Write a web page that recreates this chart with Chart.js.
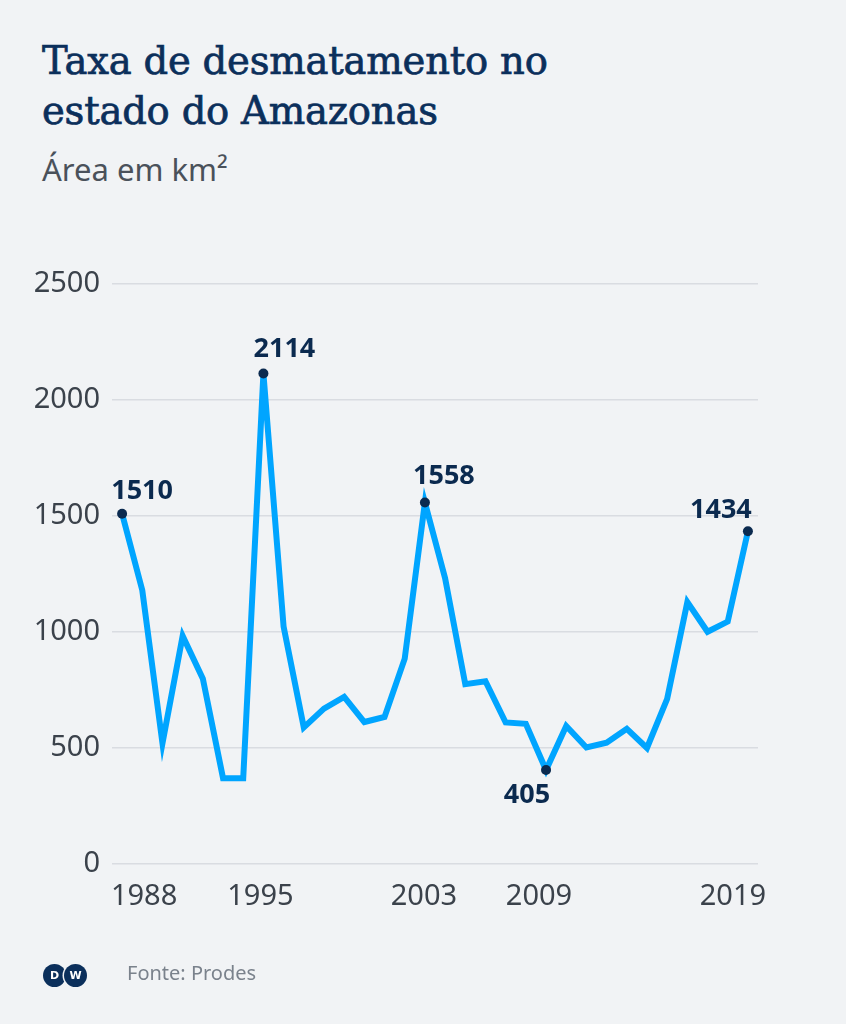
<!DOCTYPE html>
<html>
<head>
<meta charset="utf-8">
<script src="https://cdn.jsdelivr.net/npm/chart.js@4.4.1/dist/chart.umd.min.js"></script>
<style>
  html, body { margin: 0; padding: 0; background: #f1f3f5; }
  body { width: 846px; height: 1024px; position: relative; overflow: hidden; }
  #c { position: absolute; left: 0; top: 0; }
  .title { position: absolute; left: 42px; top: 36px; font-family: "DejaVu Serif", serif; font-size: 38.5px; line-height: 50px; color: #0b2f5b; font-weight: normal; -webkit-text-stroke: 0.7px #0b2f5b; letter-spacing: -0.2px; }
  .sub { position: absolute; left: 42px; top: 148px; font-family: "Noto Sans", sans-serif; font-size: 31px; color: #4a515a; }
  .src { position: absolute; left: 127px; top: 959px; font-family: "Noto Sans", sans-serif; font-size: 20px; color: #7a828c; }
  .logo { position: absolute; left: 43px; top: 964px; width: 46px; height: 23px; }
  .logo span { position: absolute; top: 0; width: 23px; height: 23px; box-sizing: border-box; border-radius: 50%; background: #0b2f5b; color: #fff; font-family: "DejaVu Sans", sans-serif; font-weight: bold; font-size: 11px; line-height: 23px; text-align: center; }
  .logo .d { left: 0; }
  .logo .w { left: 21px; box-shadow: 0 0 0 1.5px #f1f3f5; }
</style>
</head>
<body>
<div class="title">Taxa de desmatamento no<br>estado do Amazonas</div>
<div class="sub">Área em km²</div>
<canvas id="c" width="846" height="1024"></canvas>
<div class="logo"><span class="d">D</span><span class="w">W</span></div>
<div class="src">Fonte: Prodes</div>
<script>
const years = [1988,1989,1990,1991,1992,1993,1994,1995,1996,1997,1998,1999,2000,2001,2002,2003,2004,2005,2006,2007,2008,2009,2010,2011,2012,2013,2014,2015,2016,2017,2018,2019];
const area = [1510,1180,520,983,799,370,370,2114,1023,589,670,720,612,634,885,1558,1232,775,788,610,604,405,595,502,523,583,500,712,1129,1001,1045,1434];
const xTickYears = [1988,1995,2003,2009,2019];
const yTicks = [0,500,1000,1500,2000,2500];
const labeledYears = [1988,1995,2003,2009,2019];

// style only: label nudges in pixels
const labelOffsets = { 1988: [20,-22], 1995: [21,-24], 2003: [19,-26], 2009: [-19,25], 2019: [-27,-21] };
const xTickNudge = { 1988: 22, 1995: -3, 2003: -1, 2009: -7, 2019: -15 };

const pts = years.map((y, i) => ({ x: y, y: area[i] }));
const isLabeled = ctx => labeledYears.includes(years[ctx.dataIndex]);

const labelPlugin = {
  id: 'vlabels',
  afterDatasetsDraw(chart) {
    const ctx = chart.ctx;
    const meta = chart.getDatasetMeta(0);
    ctx.save();
    ctx.font = 'bold 27px "Noto Sans", sans-serif';
    ctx.fillStyle = '#0b2a4f';
    ctx.textAlign = 'center';
    ctx.textBaseline = 'middle';
    meta.data.forEach((el, i) => {
      const yr = years[i];
      if (!labeledYears.includes(yr)) return;
      const off = labelOffsets[yr];
      ctx.fillText(String(area[i]), el.x + off[0], el.y + off[1]);
    });
    // x-axis year labels, positioned by the x scale
    const xs = chart.scales.x;
    ctx.font = '29px "Noto Sans", sans-serif';
    ctx.fillStyle = '#3b424b';
    ctx.textBaseline = 'alphabetic';
    xTickYears.forEach(yr => {
      ctx.fillText(String(yr), xs.getPixelForValue(yr) + xTickNudge[yr], 905);
    });
    ctx.restore();
  }
};

new Chart(document.getElementById('c'), {
  type: 'line',
  data: {
    datasets: [{
      data: pts,
      borderColor: '#00a5ff',
      borderWidth: 6,
      borderJoinStyle: 'miter',
      tension: 0,
      pointRadius: ctx => isLabeled(ctx) ? 5 : 0,
      pointBackgroundColor: '#0b2a4f',
      pointBorderWidth: 0,
      pointHoverRadius: 0
    }]
  },
  options: {
    responsive: false,
    animation: false,
    events: [],
    layout: { padding: { left: 0, right: 88, top: 284, bottom: 110 } },
    plugins: { legend: { display: false }, tooltip: { enabled: false } },
    scales: {
      x: {
        type: 'linear',
        min: 1987.5,
        max: 2019.5,
        afterBuildTicks: s => { s.ticks = xTickYears.map(v => ({ value: v })); },
        afterFit: s => { s.height = 50; },
        grid: { display: false, drawTicks: false },
        border: { display: false },
        ticks: { display: false }
      },
      y: {
        min: 0,
        max: 2500,
        afterBuildTicks: s => { s.ticks = yTicks.map(v => ({ value: v })); },
        afterFit: s => { s.width = 112; },
        grid: { color: '#d9dce1', lineWidth: 1.5, drawTicks: false },
        border: { display: false },
        ticks: {
          padding: 12,
          color: '#3b424b',
          font: { family: '"Noto Sans", sans-serif', size: 29 },
          callback: v => String(v)
        }
      }
    }
  },
  plugins: [labelPlugin]
});
</script>
</body>
</html>
